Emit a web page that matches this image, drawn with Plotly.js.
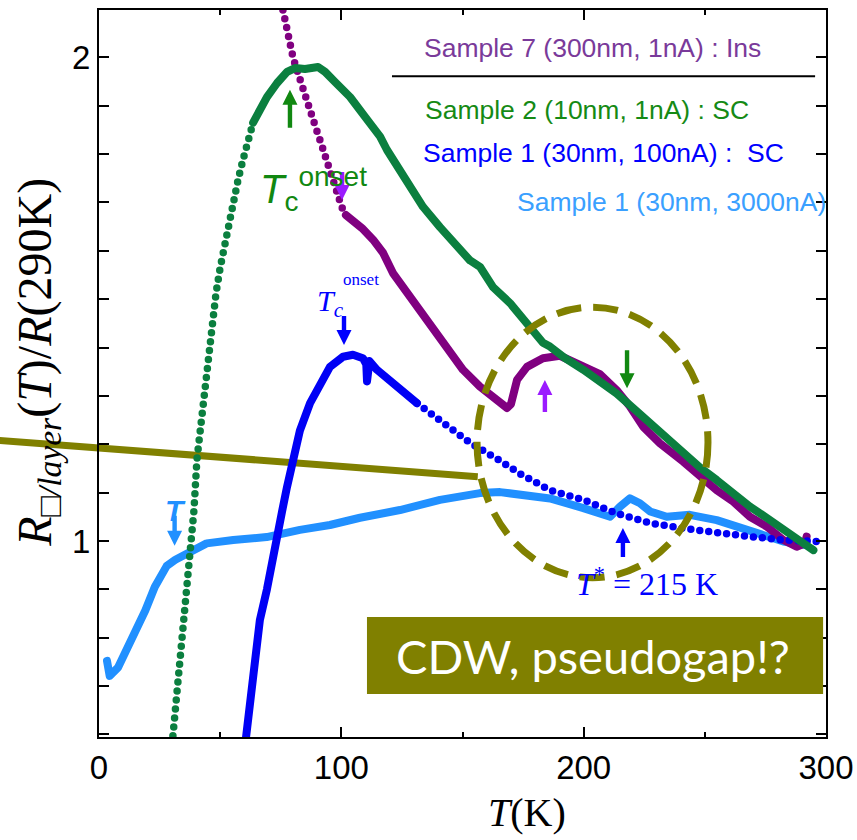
<!DOCTYPE html>
<html>
<head>
<meta charset="utf-8">
<script src="https://cdn.plot.ly/plotly-3.0.1.min.js"></script>
<style>
  html, body { margin: 0; padding: 0; background: #fff; }
  #chart { width: 857px; height: 840px; }
  /* round caps turn the zero-length dashes of the low-density segments into dots */
  .js-line { stroke-linecap: round; stroke-linejoin: round; }
</style>
</head>
<body>
<div id="chart"></div>
<script>
// ---- Sample 7 (300 nm, 1 nA): insulating ----
const s7_T = [75.9, 77.2, 78.0, 78.8, 80.1, 81.3, 82.5, 84.2, 85.4, 87.1, 88.3, 89.5, 91.2, 92.4, 93.7, 95.3, 96.6, 97.8, 99.0, 100.3, 101.9,
              104.4, 108.5, 113.1, 117.2, 121.3, 128.3, 133.7, 139.5, 144.8, 150.2, 157.2, 162.6, 165.5, 168.4, 170.0, 171.3, 172.5, 176.6,
              183.2, 190.2, 199.9, 206.7, 213.6, 219.1, 224.6, 231.5, 241.1, 248.0, 254.9, 261.8, 268.6, 275.5, 282.4, 287.9, 291.3, 292.0];
const s7_R = [2.098, 2.067, 2.040, 2.020, 1.999, 1.980, 1.960, 1.939, 1.918, 1.896, 1.875, 1.854, 1.829, 1.809, 1.788, 1.763, 1.747, 1.726, 1.705, 1.689, 1.674,
              1.664, 1.647, 1.623, 1.596, 1.554, 1.505, 1.463, 1.422, 1.389, 1.354, 1.319, 1.298, 1.287, 1.275, 1.283, 1.306, 1.333, 1.360,
              1.378, 1.383, 1.359, 1.345, 1.312, 1.278, 1.236, 1.202, 1.164, 1.133, 1.105, 1.081, 1.050, 1.030, 1.002, 0.988, 0.995, 1.009];

// ---- Sample 2 (10 nm, 1 nA): superconducting ----
const s2_T = [30.5, 32.0, 33.8, 35.5, 37.1, 38.4, 39.2, 40.4, 41.7, 42.9, 45.0, 47.0, 48.3, 50.0, 51.6, 53.2, 55.3, 57.4, 59.4, 61.5, 63.6,
              66.4, 69.3, 73.5, 77.6, 80.9, 85.0, 90.4, 93.3, 97.4, 103.6, 109.8, 116.0, 118.8, 127.1, 133.7, 140.7, 147.7, 153.1, 157.2,
              162.6, 169.6, 176.6, 183.2, 186.1, 192.3, 199.9, 206.7, 213.6, 220.4, 227.4, 234.3, 241.1, 248.0, 254.9, 261.8, 268.6, 275.5,
              282.4, 289.3, 294.8];
const s2_R = [0.597, 0.681, 0.779, 0.878, 0.950, 1.002, 1.064, 1.168, 1.230, 1.292, 1.389, 1.488, 1.513, 1.565, 1.608, 1.649, 1.699, 1.747, 1.788, 1.829, 1.865,
              1.891, 1.918, 1.947, 1.970, 1.978, 1.976, 1.980, 1.970, 1.949, 1.918, 1.877, 1.836, 1.809, 1.740, 1.691, 1.649, 1.608, 1.580, 1.567,
              1.525, 1.492, 1.451, 1.410, 1.402, 1.378, 1.354, 1.330, 1.305, 1.275, 1.243, 1.212, 1.181, 1.152, 1.126, 1.098, 1.071, 1.048,
              1.026, 1.000, 0.981];

// ---- Sample 1 (30 nm, 100 nA): superconducting ----
const s1a_T = [60.7, 62.3, 64.4, 66.4, 69.3, 71.4, 73.5, 75.5, 77.6, 80.1, 82.9, 87.1, 91.2, 95.3, 100.7, 104.8, 108.9, 110.3, 110.6, 110.9, 111.6,
               114.7, 121.3, 131.2, 142.0, 153.1, 165.5, 173.7, 186.1, 199.9, 213.6, 227.4, 241.1, 254.9, 268.6, 282.4, 296.2];
const s1a_R = [0.595, 0.671, 0.754, 0.837, 0.900, 0.961, 1.015, 1.060, 1.112, 1.168, 1.228, 1.285, 1.327, 1.360, 1.381, 1.385, 1.378, 1.365, 1.330, 1.362, 1.372,
               1.354, 1.327, 1.285, 1.244, 1.203, 1.166, 1.139, 1.105, 1.085, 1.057, 1.037, 1.026, 1.016, 1.009, 1.002, 0.999];

// ---- Sample 1 (30 nm, 3000 nA) ----
const s1b_T = [3.3, 4.4, 7.8, 13.5, 19.1, 23.0, 27.9, 31.5, 36.2, 44.4, 55.4, 69.2, 82.9, 95.3, 107.7, 124.2, 140.7, 157.2, 165.5, 173.7,
               186.1, 199.9, 210.9, 215.0, 219.1, 223.2, 227.4, 234.3, 243.8, 254.9, 268.6, 282.4, 290.6];
const s1b_R = [0.752, 0.721, 0.738, 0.794, 0.856, 0.905, 0.948, 0.961, 0.975, 0.995, 1.002, 1.008, 1.023, 1.033, 1.048, 1.064, 1.085, 1.099, 1.101, 1.095,
               1.088, 1.068, 1.050, 1.071, 1.088, 1.078, 1.061, 1.050, 1.054, 1.043, 1.019, 0.999, 0.992];

// temperature ranges where the measurement points are sparse (drawn as separate dots)
const s7_sparseBelow = 101.9;
const s2_sparseBelow = 63.6;
const s1a_sparseAbove = 131.2;

// axis ticks
const xTickVals = [0, 100, 200, 300];
const xMinorStep = 50;
const yTickVals = [1, 2];
const yMinorStep = 0.1;

// colours
const C_S7 = '#800080', C_S2 = '#0b7f3f', C_S1A = '#0000f5', C_S1B = '#2190ff';
const OLIVE = '#808000';
const GREEN_MARK = '#118811', VIOLET_MARK = '#9b1bff', BLUE_MARK = '#0000ff';

function part(T, R, keep) {
  const x = [], y = [];
  T.forEach((t, i) => { if (keep(t)) { x.push(t); y.push(R[i]); } });
  return { x, y };
}
function dense(T, R, keep, color) {
  const p = part(T, R, keep);
  return { x: p.x, y: p.y, type: 'scatter', mode: 'lines', hoverinfo: 'skip',
           line: { color, width: 8 } };
}
function dotted(T, R, keep, color) {
  const p = part(T, R, keep);
  return { x: p.x, y: p.y, type: 'scatter', mode: 'lines', hoverinfo: 'skip',
           line: { color, width: 7.5, dash: '0px,9px' } };
}

const traces = [
  dense(s1b_T, s1b_R, () => true, C_S1B),
  dense(s7_T, s7_R, t => t >= s7_sparseBelow, C_S7),
  dotted(s7_T, s7_R, t => t <= s7_sparseBelow, C_S7),
  dense(s1a_T, s1a_R, t => t <= s1a_sparseAbove, C_S1A),
  dotted(s1a_T, s1a_R, t => t >= s1a_sparseAbove, C_S1A),
  dense(s2_T, s2_R, t => t >= s2_sparseBelow, C_S2),
  dotted(s2_T, s2_R, t => t <= s2_sparseBelow, C_S2)
];

// vertical marker arrow: tip at (x, y) in data units, shape sized in screen pixels.
// dir = +1 points up, -1 points down.
function arrowShape(x, y, len, dir, color) {
  const s = dir;
  const h = 15, hw = 7.5, sw = 2.2;
  const pts = [[0, 0], [-hw, -s * h], [-sw, -s * h], [-sw, -s * len], [sw, -s * len], [sw, -s * h], [hw, -s * h]];
  const path = 'M' + pts.map(p => p[0] + ',' + p[1]).join(' L') + ' Z';
  return { type: 'path', xref: 'x', yref: 'y', xsizemode: 'pixel', ysizemode: 'pixel',
           xanchor: x, yanchor: y, path, fillcolor: color, line: { width: 0 }, layer: 'above' };
}

function label(text, x, y, size, color, family, xanchor, refs) {
  return Object.assign({ text, x, y, xanchor: xanchor || 'left', yanchor: 'middle', showarrow: false,
           font: { size, color, family: family || 'Liberation Sans, Arial, sans-serif' } },
           refs || { xref: 'paper', yref: 'paper' });
}
const SERIF = 'Liberation Serif, Times New Roman, serif';
const dataRef = { xref: 'x', yref: 'y' };

const annotations = [
  label('Sample 7 (300nm, 1nA) : Ins', 0.4443, 0.9477, 26.5, '#7a3a9a'),
  label('Sample 2 (10nm, 1nA) : SC', 0.4457, 0.8624, 26.5, '#158a15'),
  label('Sample 1 (30nm, 100nA) :  SC', 0.4429, 0.8033, 26.5, '#0000ff'),
  label('Sample 1 (30nm, 3000nA)', 0.5722, 0.7359, 26.5, '#3aa0ff'),

  label('<i>T</i><sub>c</sub><sup>onset</sup>', 65.6, 1.728, 40, GREEN_MARK, null, 'left', dataRef),
  label('<i>T</i><sub><i>c</i></sub>', 89.0, 1.493, 30, BLUE_MARK, SERIF, 'left', dataRef),
  label('onset', 99.8, 1.540, 17, BLUE_MARK, SERIF, 'left', dataRef),
  label('<i>T</i><sup>*</sup> = 215 K', 196.0, 0.915, 32, BLUE_MARK, SERIF, 'left', dataRef),
  label('<b><i>T</i></b>', 31.6, 1.063, 30, C_S1B, null, 'center', dataRef),

  label('CDW, pseudogap!?', 0.680, 0.1114, 47, '#ffffff', 'Lato, Open Sans, sans-serif', 'center'),

  label('<i>T</i>(K)', 0.5887, -0.104, 40, '#000', SERIF, 'center'),
  Object.assign(label('<i>R</i><sub>□<i>/layer</i></sub>(<i>T</i>)/<i>R</i>(290K)', -0.085, 0.515, 48, '#000', SERIF, 'center'),
                { textangle: -90 })
];

const shapes = [
  // pointer from the left margin to the highlighted region
  { type: 'line', xref: 'paper', yref: 'paper', x0: -0.137, y0: 0.408, x1: 0.521, y1: 0.358,
    line: { color: OLIVE, width: 7 }, layer: 'below' },
  // dashed ellipse around the anomaly region
  { type: 'circle', xref: 'x', yref: 'y', x0: 156.0, x1: 251.3, y0: 0.924, y1: 1.4835,
    line: { color: OLIVE, width: 7, dash: '25px,12px' }, layer: 'above' },
  // separator under the insulating sample label
  { type: 'line', xref: 'paper', yref: 'paper', x0: 0.403, x1: 0.985, y0: 0.909, y1: 0.909,
    line: { color: '#000', width: 2 } },
  // label box
  { type: 'rect', xref: 'paper', yref: 'paper', x0: 0.3686, x1: 0.996, y0: 0.0591, y1: 0.165,
    fillcolor: OLIVE, line: { width: 0 }, layer: 'above' },

  arrowShape(78.8, 1.933, 38, 1, GREEN_MARK),
  arrowShape(100.3, 1.705, 28, -1, VIOLET_MARK),
  arrowShape(101.1, 1.405, 29, -1, BLUE_MARK),
  arrowShape(184.0, 1.333, 32, 1, VIOLET_MARK),
  arrowShape(217.9, 1.316, 38, -1, GREEN_MARK),
  arrowShape(216.2, 1.027, 29, 1, BLUE_MARK),
  arrowShape(31.2, 0.990, 30, -1, C_S1B)
];

const axisCommon = {
  showgrid: false, zeroline: false, showline: true, linecolor: '#000', linewidth: 2,
  mirror: 'ticks', ticks: 'inside', ticklen: 10, tickwidth: 2, tickcolor: '#000',
  tickfont: { family: 'Liberation Sans, Arial, sans-serif', size: 33, color: '#000' }
};

const layout = {
  width: 857, height: 840,
  margin: { l: 99, r: 31, t: 10, b: 103 },
  paper_bgcolor: '#fff', plot_bgcolor: 'rgba(0,0,0,0)',
  showlegend: false,
  xaxis: Object.assign({}, axisCommon, {
    range: [0, 300], tickmode: 'array', tickvals: xTickVals,
    minor: { dtick: xMinorStep, tick0: 0, ticks: 'inside', ticklen: 5, tickwidth: 2, tickcolor: '#000' }
  }),
  yaxis: Object.assign({}, axisCommon, {
    range: [0.5946, 2.098], tickmode: 'array', tickvals: yTickVals,
    minor: { dtick: yMinorStep, tick0: 0, ticks: 'inside', ticklen: 10, tickwidth: 2, tickcolor: '#000' }
  }),
  shapes, annotations
};

Plotly.newPlot('chart', traces, layout, { staticPlot: true });
</script>
</body>
</html>
